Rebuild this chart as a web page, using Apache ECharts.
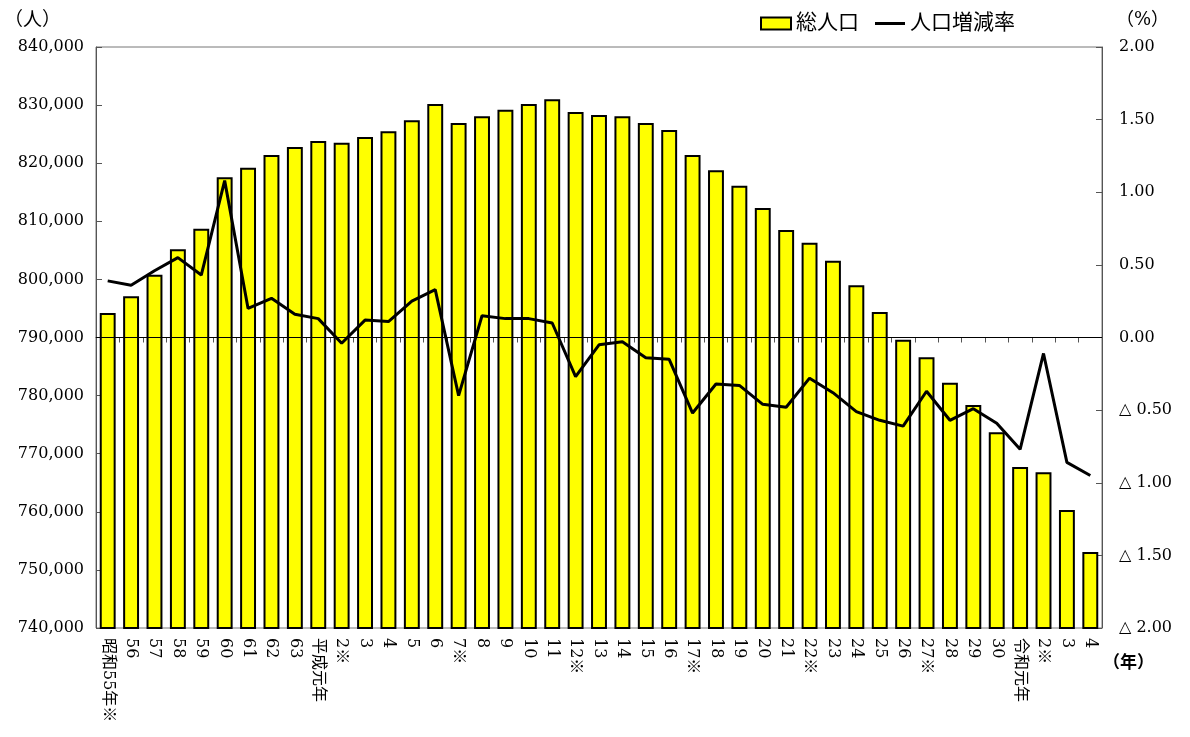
<!DOCTYPE html>
<html>
<head>
<meta charset="utf-8">
<script src="https://cdn.jsdelivr.net/npm/echarts@6/dist/echarts.min.js"></script>
<style>
html,body{margin:0;padding:0;background:#fff;}
#main{width:1190px;height:737px;}
</style>
</head>
<body>
<div id="main"></div>
<script>
// 年（和暦）
var years = ['昭和55年※','56','57','58','59','60','61','62','63','平成元年','2※','3','4','5','6','7※','8','9','10','11','12※','13','14','15','16','17※','18','19','20','21','22※','23','24','25','26','27※','28','29','30','令和元年','2※','3','4'];
// 総人口（人）
var population = [794200,797100,800800,805200,808700,817600,819200,821400,822800,823800,823500,824500,825500,827400,830200,826900,828100,829200,830200,831000,828800,828300,828100,826900,825700,821400,818800,816100,812300,808500,806300,803200,799000,794400,789600,786600,782200,778400,773700,767700,766800,760300,753100];
// 人口増減率（%）
var rate = [0.39,0.36,0.46,0.55,0.43,1.08,0.20,0.27,0.16,0.13,-0.04,0.12,0.11,0.25,0.33,-0.40,0.15,0.13,0.13,0.10,-0.27,-0.05,-0.03,-0.14,-0.15,-0.52,-0.32,-0.33,-0.46,-0.48,-0.28,-0.38,-0.51,-0.57,-0.61,-0.37,-0.57,-0.49,-0.59,-0.77,-0.11,-0.86,-0.95];

var FONT = "'DejaVu Serif', 'Noto Sans CJK JP', serif";
var myChart = echarts.init(document.getElementById('main'));
var option = {
  animation: false,
  textStyle: {fontFamily: FONT, color: '#000'},
  grid: {left: 96, right: 88, top: 47, bottom: 109, show: true, borderColor: '#777', borderWidth: 1},
  legend: {
    top: 8, left: 755,
    itemWidth: 30, itemHeight: 12, itemGap: 16,
    textStyle: {fontSize: 21, fontFamily: FONT, color: '#000'},
    data: [
      {name: '総人口', icon: 'rect'},
      {name: '人口増減率', icon: 'path://M0,0 L30,0 L30,3 L0,3 Z', itemStyle: {color: '#000', borderWidth: 0}}
    ]
  },
  graphic: [
    {type: 'text', left: 4, top: 12, style: {text: '（人）', fontSize: 19, fontFamily: FONT, fill: '#000'}},
    {type: 'text', left: 1116, top: 11, style: {text: '（%）', fontSize: 18, fontFamily: FONT, fill: '#000'}},
    {type: 'text', left: 1103, top: 655, style: {text: '（年）', fontSize: 17, fontFamily: FONT, fill: '#000', fontWeight: 'bold'}}
  ],
  xAxis: {
    type: 'category',
    data: years,
    boundaryGap: true,
    axisLine: {lineStyle: {color: '#333', width: 1}},
    axisTick: {show: true, length: 5, lineStyle: {color: '#555'}},
    axisLabel: {rotate: -90, fontSize: 16, margin: 10, color: '#000', fontFamily: FONT, interval: 0}
  },
  yAxis: [
    {
      type: 'value', min: 740000, max: 840000, interval: 10000,
      axisLine: {show: true, lineStyle: {color: '#555'}},
      axisTick: {show: true, inside: true, length: 6, lineStyle: {color: '#555'}},
      splitLine: {show: false},
      axisLabel: {
        fontSize: 16, color: '#000', margin: 12, fontFamily: FONT,
        formatter: function (v) { return v.toLocaleString('en-US'); }
      }
    },
    {
      type: 'value', min: -2, max: 2, interval: 0.5,
      axisLine: {show: true, lineStyle: {color: '#555'}},
      axisTick: {show: true, inside: true, length: 6, lineStyle: {color: '#555'}},
      splitLine: {show: false},
      axisLabel: {
        fontSize: 16, color: '#000', margin: 17, fontFamily: FONT,
        formatter: function (v) {
          if (v < 0) return '△ ' + Math.abs(v).toFixed(2);
          return v.toFixed(2);
        }
      }
    }
  ],
  series: [
    {
      name: '総人口',
      type: 'bar',
      data: population,
      barWidth: '68%',
      itemStyle: {color: '#ffff00', borderColor: '#000', borderWidth: 2}
    },
    {
      name: '人口増減率',
      type: 'line',
      yAxisIndex: 1,
      data: rate,
      symbol: 'none',
      lineStyle: {color: '#000', width: 3},
      itemStyle: {color: '#000'},
      markLine: {
        silent: true, symbol: 'none', label: {show: false},
        lineStyle: {color: '#000', width: 1, type: 'solid'},
        data: [{yAxis: 0}]
      }
    }
  ]
};
myChart.setOption(option);
</script>
</body>
</html>
